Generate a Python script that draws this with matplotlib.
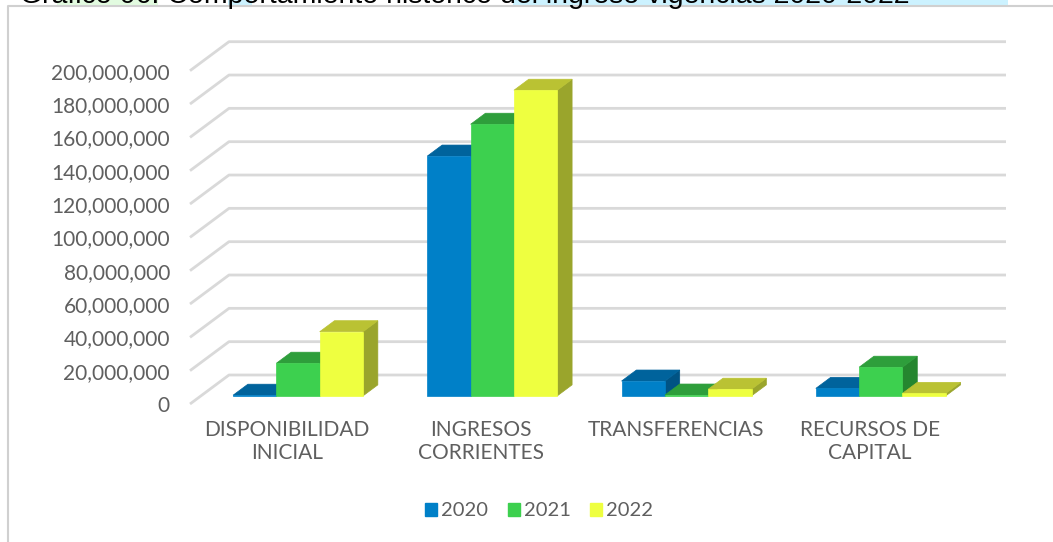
import numpy as np
import matplotlib
matplotlib.use("Agg")
import matplotlib.pyplot as plt
from matplotlib.patches import Polygon, Patch, Rectangle
from matplotlib.lines import Line2D

# ---- data -------------------------------------------------------------
categories = ["DISPONIBILIDAD\nINICIAL", "INGRESOS\nCORRIENTES",
              "TRANSFERENCIAS", "RECURSOS DE\nCAPITAL"]
years = ["2020", "2021", "2022"]
values_2020 = [0.4e6, 143.9e6, 8.9e6, 4.5e6]
values_2021 = [19.6e6, 163.0e6, 0.5e6, 17.2e6]
values_2022 = [38.5e6, 183.4e6, 4.0e6, 1.5e6]
y_ticks = [0, 20e6, 40e6, 60e6, 80e6, 100e6, 120e6, 140e6, 160e6, 180e6, 200e6]
title_text = "Gráfico 06. Comportamiento histórico del ingreso vigencias 2020-2022"

series = [values_2020, values_2021, values_2022]
face_colors = ["#0080C8", "#3DD04F", "#EEFF40"]
top_colors = ["#00639C", "#2E9E3B", "#BAC233"]
side_colors = ["#005384", "#25862F", "#9AA52C"]

FONT = "Lato"
TEXT_GRAY = "#5F5F5F"
GRID = "#D9D9D9"

W, H, DPI = 1053, 542, 100
fig = plt.figure(figsize=(W / DPI, H / DPI), dpi=DPI)
fig.patch.set_facecolor("white")

# text highlight bands behind the caption line
for (x0, x1, col) in [(57, 158, "#E2FBE0"), (228, 252, "#CCF2FF"), (513, 1008, "#CCF2FF")]:
    fig.add_artist(Rectangle((x0 / W, 1 - 5 / H), (x1 - x0) / W, 5 / H,
                             transform=fig.transFigure, facecolor=col,
                             edgecolor="none", zorder=0))

# chart frame (left and top edges)
fig.add_artist(Line2D([8 / W, 8 / W, 1.0], [0.0, 1 - 5.5 / H, 1 - 5.5 / H],
                      transform=fig.transFigure, color="#D0D0D0", lw=1.5))

# caption, partly outside the canvas
fig.text(20 / W, 1 - 3 / H, title_text, fontsize=20.5, family="Liberation Sans",
         va="baseline", ha="left", color="black", zorder=2)

# plot area: front edge of the floor
ax = fig.add_axes([190 / W, 138 / H, 777 / W, 333.3 / H])
ax.set_xlim(-0.5, len(categories) - 0.5)
ax.set_ylim(0, 200e6)
ax.patch.set_visible(False)
for s in ax.spines.values():
    s.set_visible(False)

# depth vector of the 3-D box, converted to data units
depth_px = (39.0, 29.0)
px_per_x = ax.bbox.width / (len(categories))
px_per_y = ax.bbox.height / 200e6
DX = depth_px[0] / px_per_x
DY = depth_px[1] / px_per_y


def proj(x, v, z):
    return (x + z * DX, v + z * DY)


# gridlines: short oblique stroke on the left wall + back wall line
x_left, x_right = ax.get_xlim()
for v in y_ticks:
    pts = [proj(x_left, v, 0), proj(x_left, v, 1), proj(x_right, v, 1)]
    xs, ys = zip(*pts)
    ax.plot(xs, ys, color=GRID, lw=2, zorder=1, clip_on=False,
            solid_capstyle="butt")

# bars
bar_w = 0.223
z0, z1 = 0.28, 0.66
for ci in range(len(categories)):
    start = ci - 1.5 * bar_w
    for si, vals in enumerate(series):
        v = vals[ci]
        xl = start + si * bar_w
        xr = xl + bar_w
        side = [proj(xr, 0, z0), proj(xr, 0, z1), proj(xr, v, z1), proj(xr, v, z0)]
        top = [proj(xl, v, z0), proj(xr, v, z0), proj(xr, v, z1), proj(xl, v, z1)]
        front = [proj(xl, 0, z0), proj(xr, 0, z0), proj(xr, v, z0), proj(xl, v, z0)]
        for poly, col in ((side, side_colors[si]), (top, top_colors[si]),
                          (front, face_colors[si])):
            ax.add_patch(Polygon(poly, closed=True, facecolor=col,
                                 edgecolor=col, lw=0.5, zorder=3, clip_on=False))

# axis labels
ax.set_yticks(y_ticks)
ax.set_yticklabels([f"{int(t):,}" for t in y_ticks])
ax.set_xticks(range(len(categories)))
ax.set_xticklabels(categories, linespacing=1.2)
ax.tick_params(axis="y", length=0, pad=14.4, labelsize=15, labelcolor=TEXT_GRAY)
ax.tick_params(axis="x", length=0, pad=11.5, labelsize=15, labelcolor=TEXT_GRAY)
for lab in ax.get_xticklabels() + ax.get_yticklabels():
    lab.set_family(FONT)
for lab in ax.get_xticklabels():
    lab.set_horizontalalignment("center")
    lab.set_multialignment("center")

# legend
handles = [Patch(facecolor=c, edgecolor=c, label=y) for c, y in zip(face_colors, years)]
leg = fig.legend(handles=handles, loc="center", bbox_to_anchor=(539 / W, 1 - 511 / H),
                 ncol=3, frameon=False, handlelength=0.6, handleheight=0.6,
                 handletextpad=0.2, columnspacing=0.95,
                 prop={"family": FONT, "size": 14.5})
for t in leg.get_texts():
    t.set_color(TEXT_GRAY)

fig.savefig("out.png", dpi=DPI, facecolor="white")
